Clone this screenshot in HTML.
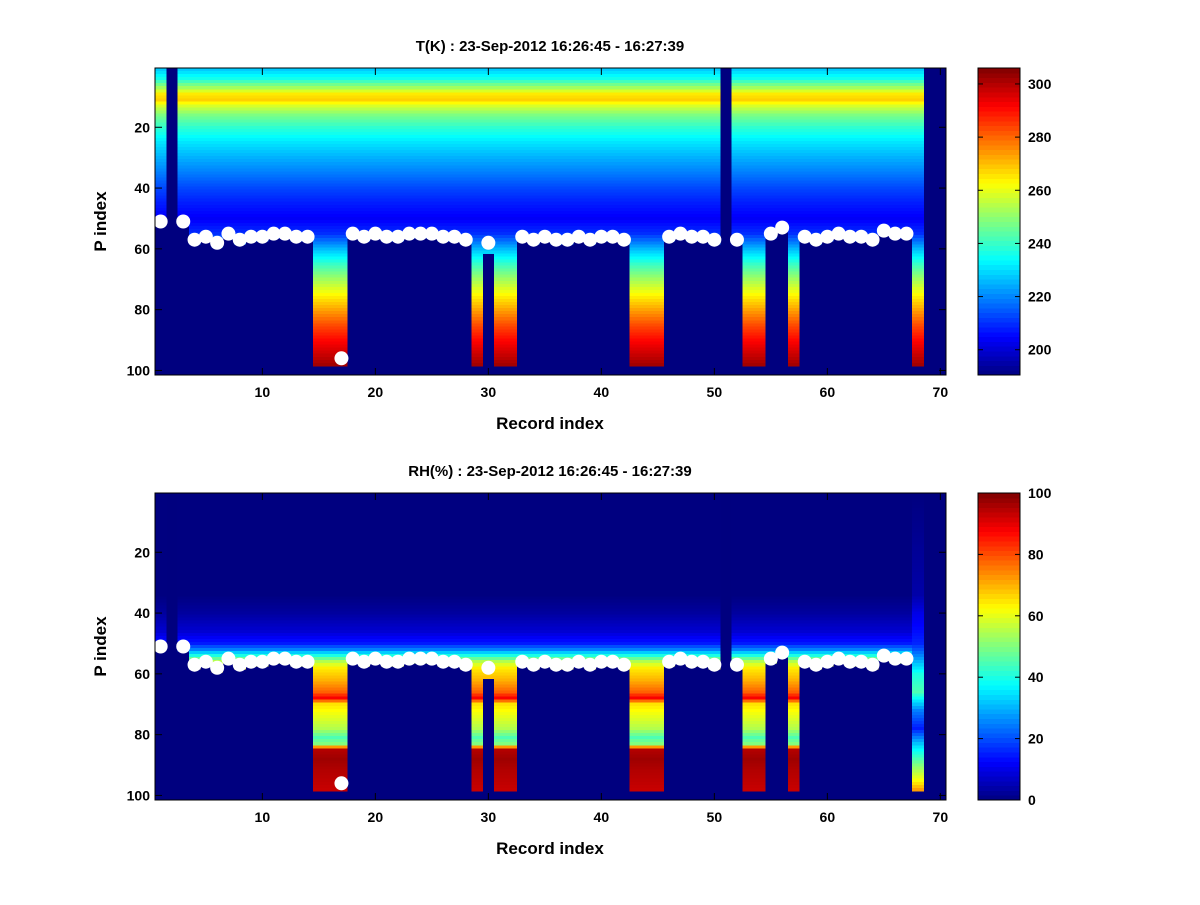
<!DOCTYPE html>
<html><head><meta charset="utf-8">
<style>
html,body{margin:0;padding:0;background:#fff;}
svg text{font-family:"Liberation Sans",sans-serif;font-weight:bold;fill:#000;}
</style></head>
<body>
<svg id="fig" width="1200" height="900" viewBox="0 0 1200 900" xmlns="http://www.w3.org/2000/svg">
<rect width="1200" height="900" fill="#fff"/>
</svg>
<script>
// ---- data ----
const records = Array.from({length:70},(_,i)=>i+1);
// surface (white dot) P index per record; null = none
const surfaceDots = [51,null,51,57,56,58,55,57,56,56,55,55,56,56,null,null,96,55,56,55,56,56,55,55,55,56,56,57,null,58,null,null,56,57,56,57,57,56,57,56,56,57,null,null,null,56,55,56,56,57,null,57,null,null,55,53,null,56,57,56,55,56,56,57,54,55,55,null,null,null];
// lowest P index with valid data per record (0 = no data)
const dataBottom = [49,0,52,58,57,59,56,58,57,57,56,56,57,57,98,98,98,56,57,56,57,57,56,56,56,57,57,58,98,61,98,98,57,58,57,58,58,57,58,57,57,58,98,98,98,57,56,57,57,58,0,58,98,98,56,54,98,57,58,57,56,57,57,58,55,56,56,98,0,0];
// temperature profile keypoints (P index, K)
const tKeyP = [1,4,7,9,11,13,16,20,25,30,35,40,45,50,55,60,65,70,75,80,85,90,95,98];
const tKeyV = [228,236,252,265,268,258,248,239,231,225,219,213,208,204,210,226,240,252,263,273,283,291,298,302];
// RH profile keypoints (P index, %)
const rhKeyP = [1,34,40,46,50,52,54,56,58,62,66,68,70,74,78,81,83,85,88,92,98];
const rhKeyV = [0,0,3,8,15,25,40,55,64,70,78,88,65,60,55,45,50,95,97,95,93];
const rh68P = [1,34,40,50,56,60,66,72,78,84,90,95,98];
const rh68V = [0,4,10,16,30,40,45,25,15,35,50,62,72];
const tLimits = [190.5,306];
const rhLimits = [0,100];
const xTicks = [10,20,30,40,50,60,70];
const yTicks = [20,40,60,80,100];
const tCbTicks = [200,220,240,260,280,300];
const rhCbTicks = [0,20,40,60,80,100];

// ---- helpers ----
const NS="http://www.w3.org/2000/svg";
const svg=document.getElementById('fig');
function el(tag,attrs,parent){const e=document.createElementNS(NS,tag);for(const k in attrs)e.setAttribute(k,attrs[k]);(parent||svg).appendChild(e);return e;}
function interp(P,V,p){if(p<=P[0])return V[0];for(let i=1;i<P.length;i++){if(p<=P[i]){const t=(p-P[i-1])/(P[i]-P[i-1]);return V[i-1]+t*(V[i]-V[i-1]);}}return V[V.length-1];}
function jet(v){v=Math.max(0,Math.min(1,v));const c=x=>Math.round(255*Math.max(0,Math.min(1,1.5-Math.abs(x))));return `rgb(${c(4*v-3)},${c(4*v-2)},${c(4*v-1)})`;}

function panel(cfg){
  const {top,bot,title,value,lim,cbTicks,name}=cfg;
  const x0=155,x1=946;
  const xs=r=>x0+(r-0.5)*(x1-x0)/70;
  const ys=p=>top+(p-0.5)*(bot-top)/101;
  const g=el('g',{});
  
  
  el('rect',{x:x0,y:top,width:x1-x0,height:bot-top,fill:'#00007f'},g);
  const cells=el('g',{'shape-rendering':'crispEdges'},g);
  
  
  records.forEach((r,i)=>{
    const b=dataBottom[i];
    for(let p=1;p<=b;p++){
      const v=value(r,i,p);
      const c=el('rect',{x:xs(r-0.5),y:ys(p-0.5),width:xs(r+0.5)-xs(r-0.5)+0.4,height:ys(p+0.5)-ys(p-0.5)+0.4,fill:jet((v-lim[0])/(lim[1]-lim[0]))},cells);
      
      
    }
  });
  records.forEach((r,i)=>{
    if(surfaceDots[i]==null)return;
    const d=el('circle',{cx:xs(r),cy:ys(surfaceDots[i]),r:7,fill:'#fff'},g);
    
    
  });
  el('rect',{x:x0,y:top,width:x1-x0,height:bot-top,fill:'none',stroke:'#000','stroke-width':1},g);
  xTicks.forEach(t=>{
    const x=xs(t);
    el('line',{x1:x,x2:x,y1:bot,y2:bot-7,stroke:'#000'},g);
    el('line',{x1:x,x2:x,y1:top,y2:top+7,stroke:'#000'},g);
    const tx=el('text',{x:x,y:bot+22,'text-anchor':'middle','font-size':14},g);tx.textContent=t;
    
    
  });
  yTicks.forEach(t=>{
    const y=ys(t);
    el('line',{x1:x0,x2:x0+7,y1:y,y2:y,stroke:'#000'},g);
    el('line',{x1:x1,x2:x1-7,y1:y,y2:y,stroke:'#000'},g);
    const tx=el('text',{x:x0-5,y:y+5,'text-anchor':'end','font-size':14},g);tx.textContent=t;
    
    
  });
  const ti=el('text',{x:550,y:top-17,'text-anchor':'middle','font-size':15},g);ti.textContent=title;
  
  
  const xl=el('text',{x:550,y:bot+54,'text-anchor':'middle','font-size':17},g);xl.textContent='Record index';
  
  
  const yc=(top+bot)/2;
  const yl=el('text',{x:106,y:yc,'text-anchor':'middle','font-size':17,transform:`rotate(-90 106 ${yc})`},g);yl.textContent='P index';
  
  
  // colorbar
  const cx0=978,cx1=1020;
  const cb=el('g',{'shape-rendering':'crispEdges'},g);
  
  
  const n=64,h=(bot-top)/n;
  for(let k=0;k<n;k++){
    el('rect',{x:cx0,y:bot-(k+1)*h,width:cx1-cx0,height:h+0.5,fill:jet((k+0.5)/n)},cb);
  }
  el('rect',{x:cx0,y:top,width:cx1-cx0,height:bot-top,fill:'none',stroke:'#000'},g);
  cbTicks.forEach(t=>{
    const y=bot-(t-lim[0])/(lim[1]-lim[0])*(bot-top);
    el('line',{x1:cx0,x2:cx0+5,y1:y,y2:y,stroke:'#000'},g);
    el('line',{x1:cx1,x2:cx1-5,y1:y,y2:y,stroke:'#000'},g);
    const tx=el('text',{x:cx1+8,y:y+5,'font-size':14},g);tx.textContent=t;
    
    
  });
}

panel({top:68,bot:375,name:'temperature',title:'T(K) : 23-Sep-2012 16:26:45 - 16:27:39',lim:tLimits,cbTicks:tCbTicks,
  value:(r,i,p)=>interp(tKeyP,tKeyV,p)});
panel({top:493,bot:800,name:'humidity',title:'RH(%) : 23-Sep-2012 16:26:45 - 16:27:39',lim:rhLimits,cbTicks:rhCbTicks,
  value:(r,i,p)=>r===68?interp(rh68P,rh68V,p):interp(rhKeyP,rhKeyV,p)});
</script>
</body></html>
